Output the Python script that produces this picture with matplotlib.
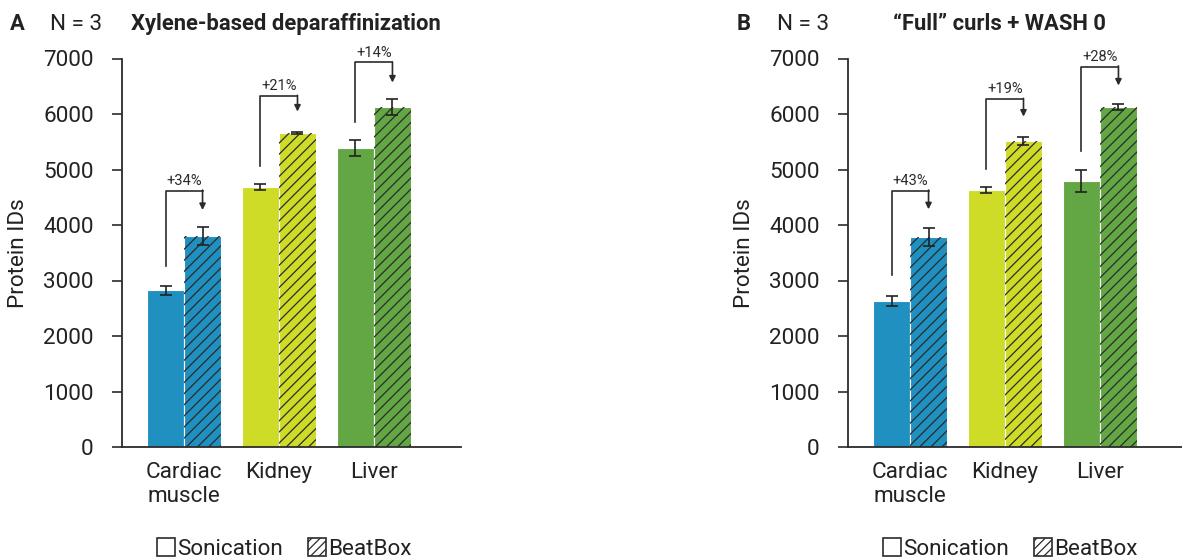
import matplotlib.pyplot as plt
from matplotlib.patches import Patch

plt.rcParams['font.family'] = ['Roboto', 'DejaVu Sans']
plt.rcParams['hatch.linewidth'] = 0.9

tissues = ['Cardiac\nmuscle', 'Kidney', 'Liver']
colors = ['#1f90bf', '#cedc27', '#62a744']

# panel A: xylene-based deparaffinization
a_son = [2827, 4685, 5394]
a_son_err = [80, 55, 145]
a_beat = [3801, 5656, 6128]
a_beat_err = [160, 25, 140]
a_pct = ['+34%', '+21%', '+14%']
a_br_start = [3260, 5069, 5863]
a_br_top = [4619, 6327, 6928]
a_br_tip = [4270, 6044, 6567]

# panel B: "Full" curls + WASH 0
b_son = [2628, 4631, 4793]
b_son_err = [87, 57, 200]
b_beat = [3778, 5514, 6128]
b_beat_err = [160, 80, 50]
b_pct = ['+43%', '+19%', '+28%']
b_br_start = [3098, 5010, 5335]
b_br_top = [4619, 6272, 6855]
b_br_tip = [4283, 5953, 6513]

W, H = 1182, 560
fig = plt.figure(figsize=(W / 100, H / 100), dpi=100)

dark = '#2b2b2b'
txt = '#222222'
fs = 16.2
w = 0.39


def panel(left_px, son, son_err, beat, beat_err, pct, br_start, br_top, br_tip):
    ax = fig.add_axes([left_px / W, 1 - 447 / H, 339 / W, (447 - 58.5) / H])
    x = list(range(len(tissues)))
    xs = [i - w / 2 for i in x]
    xb = [i + w / 2 for i in x]
    ax.bar(xs, son, w, color=colors, edgecolor='white', linewidth=0.8, zorder=2)
    ax.bar(xb, beat, w, color=colors, edgecolor='white', linewidth=0.8, zorder=2)
    ax.bar(xb, beat, w, color='none', edgecolor=dark, hatch='///', linewidth=0, zorder=3)
    ax.errorbar(xs, son, yerr=son_err, fmt='none', ecolor=txt, elinewidth=1.2,
                capsize=4, capthick=1.2, zorder=4)
    ax.errorbar(xb, beat, yerr=beat_err, fmt='none', ecolor=txt, elinewidth=1.2,
                capsize=4, capthick=1.2, zorder=4)
    for i in x:
        ax.plot([xs[i], xs[i], xb[i]], [br_start[i], br_top[i], br_top[i]],
                color=dark, lw=1.2, clip_on=False, zorder=5)
        ax.annotate('', xy=(xb[i], br_tip[i]), xytext=(xb[i], br_top[i] + 10),
                    arrowprops=dict(arrowstyle='-|>', color=dark, lw=1.2,
                                    mutation_scale=9, shrinkA=0, shrinkB=0),
                    annotation_clip=False, zorder=5)
        ax.text(i, br_top[i] + 50, pct[i], ha='center', va='bottom', fontsize=10.5,
                color=dark, clip_on=False)
    ax.set_xlim(-0.65, 2.92)
    ax.set_ylim(0, 7000)
    ax.set_yticks(range(0, 7001, 1000))
    ax.set_xticks(x)
    ax.set_xticklabels(tissues, fontsize=fs, color=txt, linespacing=1.15)
    ax.tick_params(axis='x', length=0, pad=11)
    ax.tick_params(axis='y', length=7.5, width=1.2, color=dark, pad=13,
                   labelsize=fs, labelcolor=txt)
    for s in ['top', 'right']:
        ax.spines[s].set_visible(False)
    for s in ['left', 'bottom']:
        ax.spines[s].set_color(dark)
        ax.spines[s].set_linewidth(1.3)
    ax.set_ylabel('Protein IDs', fontsize=fs, color=txt)
    ax.yaxis.set_label_coords(-93 / 339, 0.5)

    handles = [Patch(facecolor='white', edgecolor=dark, linewidth=1.2),
               Patch(facecolor='white', edgecolor=dark, linewidth=1.2, hatch='////')]
    leg = ax.legend(handles, ['Sonication', 'BeatBox'], loc='center',
                    bbox_to_anchor=((left_px + 162) / W, 1 - 549 / H),
                    bbox_transform=fig.transFigure, ncol=2, frameon=False,
                    fontsize=fs, handlelength=0.8, handleheight=0.8,
                    handletextpad=0.12, columnspacing=1.1)
    for t in leg.get_texts():
        t.set_color(txt)
    return ax


panel(122.3, a_son, a_son_err, a_beat, a_beat_err, a_pct, a_br_start, a_br_top, a_br_tip)
panel(848.3, b_son, b_son_err, b_beat, b_beat_err, b_pct, b_br_start, b_br_top, b_br_tip)

ty = 1 - 24 / H
fig.text(10 / W, ty, 'A', fontsize=15.8, fontweight='bold', va='center', color=txt)
fig.text(50 / W, ty, 'N = 3', fontsize=fs, va='center', color=txt)
fig.text(131 / W, ty, 'Xylene-based deparaffinization', fontsize=15.8, fontweight='bold',
         va='center', color=txt)
fig.text(737 / W, ty, 'B', fontsize=15.8, fontweight='bold', va='center', color=txt)
fig.text(777 / W, ty, 'N = 3', fontsize=fs, va='center', color=txt)
fig.text(893 / W, ty, '\u201cFull\u201d curls + WASH 0', fontsize=15.8, fontweight='bold',
         va='center', color=txt)

fig.savefig('out.png', dpi=100)
